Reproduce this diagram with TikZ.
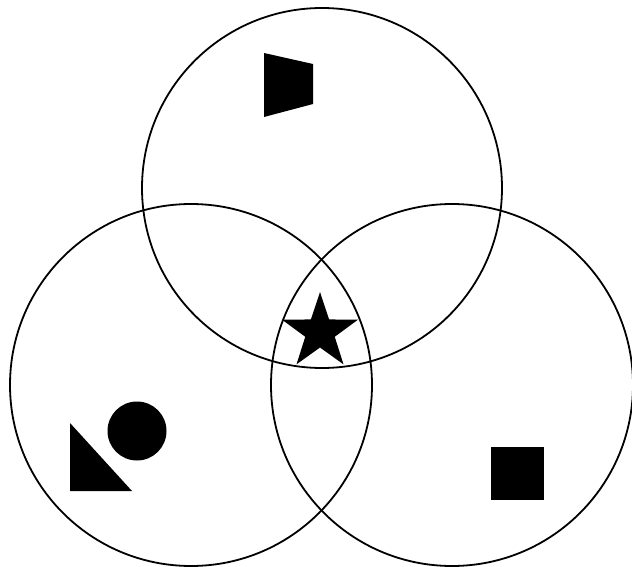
\documentclass[tikz,border=0pt]{standalone}
\usetikzlibrary{calc}
\tikzset{
  ring/.style={draw=black, line width=0.9mm},
  solidshape/.style={fill=black}
}
\begin{document}
\begin{tikzpicture}[x=0.5mm, y=-0.5mm]
  \useasboundingbox (0,0) rectangle (632,567);
  % three sets
  \draw[ring] (322,188) circle[radius=180];
  \draw[ring] (191,385) circle[radius=181];
  \draw[ring] (452,385) circle[radius=181];
  % top set: trapezoid
  \fill[solidshape] (264,53) -- (313,64) -- (313,104) -- (264,117) -- cycle;
  % centre: star
  \fill[solidshape] plot[samples at={0,...,9}]
    ({320+ifthenelse(mod(\x,2)==0,40,15.5)*cos(90+36*\x)},
     {332-ifthenelse(mod(\x,2)==0,40,15.5)*sin(90+36*\x)}) -- cycle;
  % left set: triangle and disc
  \fill[solidshape] (70,423) -- (70,491) -- (132,491) -- cycle;
  \fill[solidshape] (137,431) circle[radius=29.5];
  % right set: square
  \fill[solidshape] (491,447) rectangle (544,500);
\end{tikzpicture}
\end{document}
